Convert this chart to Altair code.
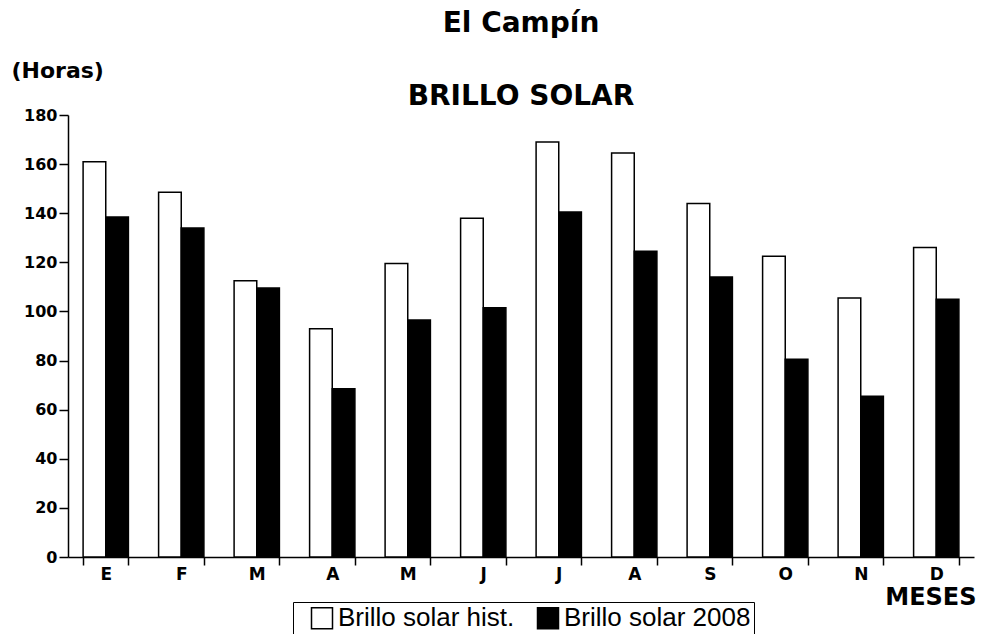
import altair as alt
import pandas as pd

meses = ["E", "F", "M", "A", "M", "J", "J", "A", "S", "O", "N", "D"]
hist = [161, 148.5, 112.5, 93, 119.5, 138, 169, 164.5, 144, 122.5, 105.5, 126]
anio2008 = [138.5, 134, 109.5, 68.5, 96.5, 101.5, 140.5, 124.5, 114, 80.5, 65.5, 105]
series = ["Brillo solar hist.", "Brillo solar 2008"]
y_ticks = [0, 20, 40, 60, 80, 100, 120, 140, 160, 180]

rows = []
for i in range(len(meses)):
    rows.append({"idx": i, "serie": series[0], "valor": hist[i]})
    rows.append({"idx": i, "serie": series[1], "valor": anio2008[i]})
df = pd.DataFrame(rows)

label_expr = "[" + ",".join("'" + m + "'" for m in meses) + "][datum.value]"

BOLD = "DejaVu Sans"

chart = alt.Chart(df).mark_bar(stroke="black", strokeWidth=1.5).encode(
    x=alt.X(
        "idx:O",
        scale=alt.Scale(paddingInner=0.4, paddingOuter=0.2),
        axis=alt.Axis(
            title="MESES",
            labelExpr=label_expr,
            labelAngle=0,
            tickBand="extent",
            tickSize=8,
            tickWidth=1.5,
            tickColor="black",
            domainColor="black",
            domainWidth=1.5,
            labelFont=BOLD,
            labelFontWeight="bold",
            labelFontSize=17,
            labelColor="black",
            labelPadding=1,
            titleFont=BOLD,
            titleFontWeight="bold",
            titleFontSize=24,
            titleColor="black",
            titleX=908,
            titleY=47,
            titleAlign="right",
            titleBaseline="alphabetic",
        ),
    ),
    xOffset=alt.XOffset("serie:N", sort=series),
    y=alt.Y(
        "valor:Q",
        scale=alt.Scale(domain=[0, 180], nice=False),
        axis=alt.Axis(
            values=y_ticks,
            title="(Horas)",
            grid=False,
            tickSize=9,
            tickWidth=1.5,
            tickColor="black",
            domainColor="black",
            domainWidth=1.5,
            labelFont=BOLD,
            labelFontWeight="bold",
            labelFontSize=16,
            labelColor="black",
            labelPadding=2,
            titleFont=BOLD,
            titleFontWeight="bold",
            titleFontSize=22,
            titleColor="black",
            titleAngle=0,
            titleX=-57,
            titleY=-38,
            titleAlign="left",
            titleBaseline="alphabetic",
        ),
    ),
    color=alt.Color(
        "serie:N",
        sort=series,
        scale=alt.Scale(domain=series, range=["white", "black"]),
        legend=alt.Legend(
            title=None,
            orient="none",
            direction="horizontal",
            legendX=225,
            legendY=487,
            strokeColor="black",
            padding=3,
            symbolType="square",
            symbolSize=441,
            symbolOffset=13,
            symbolStrokeColor="black",
            symbolStrokeWidth=1.5,
            labelFont="Liberation Sans",
            labelFontSize=26,
            labelColor="black",
            labelOffset=3,
            labelLimit=500,
            columnPadding=7,
        ),
    ),
).properties(
    width=906,
    height=442,
    padding={"left": 60, "top": 107, "right": 2, "bottom": 77},
    autosize=alt.AutoSizeParams(type="none"),
    background="white",
    title=alt.TitleParams(
        text="El Campín",
        subtitle="BRILLO SOLAR",
        font=BOLD,
        fontSize=28,
        fontWeight="bold",
        color="black",
        subtitleFont=BOLD,
        subtitleFontSize=28,
        subtitleFontWeight="bold",
        subtitleColor="black",
        subtitlePadding=45,
        offset=-52,
        anchor="middle",
        frame="group",
    ),
).configure_view(strokeWidth=0)

chart.save("out.html", embed_options={"renderer": "svg", "actions": False})
